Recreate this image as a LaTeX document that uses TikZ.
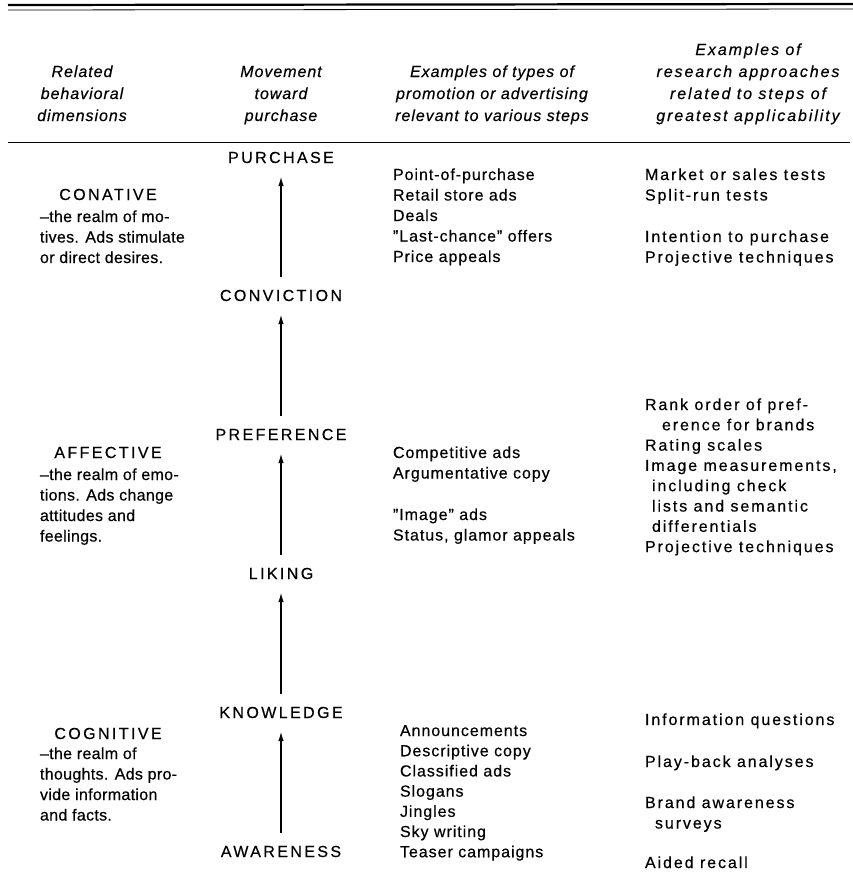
\documentclass[tikz,border=0pt]{standalone}
\usepackage{fontspec}
\setmainfont{Liberation Sans}[LetterSpace=6,FakeBold=0.4]
\newfontfamily\narrowfont{Liberation Sans}[LetterSpace=2,FakeBold=0.4]
\newfontfamily\widefont{Liberation Sans}[LetterSpace=12,FakeBold=0.4]
\newfontfamily\capsfont{Liberation Sans}[LetterSpace=15,FakeBold=0.4]
\usetikzlibrary{arrows.meta}
\begin{document}
\begin{tikzpicture}[x=1pt,y=-1pt,
  every node/.style={inner sep=0pt,outer sep=0pt},
  hdr/.style={font=\fontsize{16}{22}\selectfont\itshape,align=center,anchor=north},
  body/.style={font=\fontsize{16}{20.5}\selectfont,align=left,anchor=north west},
  stepnode/.style={font=\fontsize{16}{20}\capsfont\selectfont,anchor=base,inner xsep=0pt,inner ysep=13pt},
  dimtitle/.style={font=\fontsize{16}{20}\capsfont\selectfont,anchor=base},
  up/.style={-{Latex[length=10pt,width=5.5pt]},line width=1.6pt},
  rule/.style={line width=#1}]
\useasboundingbox (0,0) rectangle (853,878);
% rules
\draw[rule=2.2pt] (8,5) -- (853,4);
\draw[rule=0.8pt] (8,10) -- (853,9);
\draw[rule=0.7pt] (8,142) -- (850,142);
% headers
\node[hdr] (h1) at (82,61.6) {\strut Related\\behavioral\\dimensions};
\node[hdr] (h2) at (281,61.6) {\strut Movement\\toward\\purchase};
\node[hdr] (h3) at (492,61.6) {\strut Examples of types of\\promotion or advertising\\relevant to various steps};
\node[hdr,font=\fontsize{16}{22}\widefont\itshape] (h4) at (748,39.6) {\strut Examples of\\research approaches\\related to steps of\\greatest applicability};
% steps
\node[stepnode] (purchase) at (281,163) {PURCHASE};
\node[stepnode] (conviction) at (281,301) {CONVICTION};
\node[stepnode] (preference) at (281,440) {PREFERENCE};
\node[stepnode] (liking) at (281,579) {LIKING};
\node[stepnode] (knowledge) at (281,718) {KNOWLEDGE};
\node[stepnode] (awareness) at (281,857) {AWARENESS};
\draw[up] (conviction.north) -- (purchase.south);
\draw[up] (preference.north) -- (conviction.south);
\draw[up] (liking.north) -- (preference.south);
\draw[up] (knowledge.north) -- (liking.south);
\draw[up] (awareness.north) -- (knowledge.south);
% column 1
\node[dimtitle] (conative) at (108,200) {CONATIVE};
\node[body,font=\fontsize{16}{20.5}\narrowfont] (conbody) at (40,207.65) {\strut \textendash the realm of mo-\\tives. Ads stimulate\\or direct desires.};
\node[dimtitle] (affective) at (108,458) {AFFECTIVE};
\node[body,font=\fontsize{16}{20.5}\narrowfont] (affbody) at (40,465.65) {\strut \textendash the realm of emo-\\tions. Ads change\\attitudes and\\feelings.};
\node[dimtitle] (cognitive) at (108,739) {COGNITIVE};
\node[body,font=\fontsize{16}{20.5}\narrowfont] (cogbody) at (40,744.65) {\strut \textendash the realm of\\thoughts. Ads pro-\\vide information\\and facts.};
% column 3
\node[body] (promoA) at (393,165.65) {\strut Point-of-purchase\\Retail store ads\\Deals\\\textquotedblright Last-chance\textquotedblright\ offers\\Price appeals};
\node[body] (promoB) at (393,443.65) {\strut Competitive ads\\Argumentative copy};
\node[body] (promoC) at (393,505.65) {\strut \textquotedblright Image\textquotedblright\ ads\\Status, glamor appeals};
\node[body,font=\fontsize{16}{20.2}\selectfont] (promoD) at (400,721.9) {\strut Announcements\\Descriptive copy\\Classified ads\\Slogans\\Jingles\\Sky writing\\Teaser campaigns};
% column 4
\node[body,font=\fontsize{16}{20.5}\widefont] (resA) at (645,165.65) {\strut Market or sales tests\\Split-run tests};
\node[body,font=\fontsize{16}{20.5}\widefont] (resB) at (645,227.65) {\strut Intention to purchase\\Projective techniques};
\node[body,font=\fontsize{16}{20.3}\widefont] (resC) at (645,395.8) {\strut Rank order of pref-\\\hspace*{17pt}erence for brands\\Rating scales\\Image measurements,\\\hspace*{7pt}including check\\\hspace*{7pt}lists and semantic\\\hspace*{7pt}differentials\\Projective techniques};
\node[body,font=\fontsize{16}{20.5}\widefont] (resD) at (645,710.65) {\strut Information questions};
\node[body,font=\fontsize{16}{20.5}\widefont] (resE) at (645,752.65) {\strut Play-back analyses};
\node[body,font=\fontsize{16}{20.5}\widefont] (resF) at (645,793.65) {\strut Brand awareness\\\hspace*{10pt}surveys};
\node[body,font=\fontsize{16}{20.5}\widefont] (resG) at (645,853.65) {\strut Aided recall};
\end{tikzpicture}
\end{document}
